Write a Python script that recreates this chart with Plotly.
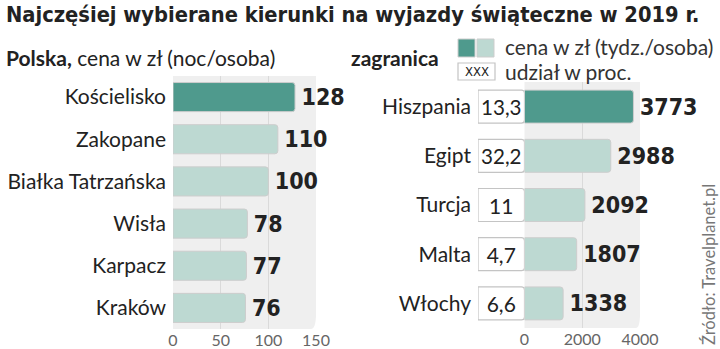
import plotly.graph_objects as go

W, H = 720, 349

# ---- data ----
pl_cities = ["Kościelisko", "Zakopane", "Białka Tatrzańska", "Wisła", "Karpacz", "Kraków"]
pl_prices = [128, 110, 100, 78, 77, 76]

ab_countries = ["Hiszpania", "Egipt", "Turcja", "Malta", "Włochy"]
ab_prices = [3773, 2988, 2092, 1807, 1338]
ab_share = ["13,3", "32,2", "11", "4,7", "6,6"]

pl_ticks = [0, 50, 100, 150]
ab_ticks = [0, 2000, 4000]

DARK = "#4f9a8d"
LIGHT = "#bdd9d2"
PANEL = "#efefef"
GRID = "#dadada"
TXT = "#222222"

LBL_FONT = "Lato"
NUM_FONT = "DejaVu Sans Condensed"
SP = "\u2006"


def px(x):
    return x / W


def py(y):
    return 1 - y / H


pl_colors = [DARK] + [LIGHT] * (len(pl_prices) - 1)
ab_colors = [DARK] + [LIGHT] * (len(ab_prices) - 1)

fig = go.Figure()

fig.add_trace(go.Bar(
    x=pl_prices, y=pl_cities, orientation="h", xaxis="x", yaxis="y",
    marker=dict(color=pl_colors, line=dict(color="#cdcdcd", width=1), cornerradius=3),
    text=[f"{SP}{v}" for v in pl_prices], textposition="outside", cliponaxis=False,
    textfont=dict(family=NUM_FONT, size=23, color=TXT, weight="bold"),
    hoverinfo="skip",
))

fig.add_trace(go.Bar(
    x=ab_prices, y=ab_countries, orientation="h", xaxis="x2", yaxis="y2", width=0.67,
    marker=dict(color=ab_colors, line=dict(color="#cdcdcd", width=1), cornerradius=3),
    text=[f"{SP}{v}" for v in ab_prices], textposition="outside", cliponaxis=False,
    textfont=dict(family=NUM_FONT, size=23, color=TXT, weight="bold"),
    hoverinfo="skip",
))

# share boxes
fig.add_trace(go.Bar(
    x=[1] * len(ab_share), y=ab_countries, orientation="h", xaxis="x3", yaxis="y2", width=0.67,
    marker=dict(color="white", line=dict(color="#c4c4c4", width=1.2), cornerradius=3),
    text=ab_share, textposition="inside", insidetextanchor="middle",
    textfont=dict(family=LBL_FONT, size=21, color=TXT),
    hoverinfo="skip",
))

axis_common = dict(showline=False, zeroline=False, ticks="", automargin=False,
                   tickfont=dict(family=LBL_FONT, size=16, color="#666"),
                   showgrid=True, gridcolor=GRID, gridwidth=1, fixedrange=True)

fig.update_layout(
    width=W, height=H,
    margin=dict(l=0, r=0, t=0, b=0, pad=0, autoexpand=False),
    paper_bgcolor="white", plot_bgcolor="rgba(0,0,0,0)",
    showlegend=False, bargap=0.31,
    xaxis=dict(domain=[px(173), px(316)], range=[0, 150], tickvals=pl_ticks,
               anchor="y", **axis_common),
    yaxis=dict(domain=[py(329), py(76)], categoryorder="array",
               categoryarray=pl_cities[::-1], anchor="x", showgrid=False,
               ticks="", ticklabelstandoff=6, automargin=False,
               tickfont=dict(family=LBL_FONT, size=21, color=TXT), fixedrange=True),
    xaxis2=dict(domain=[px(524.5), px(640)], range=[0, 4000], tickvals=ab_ticks,
                anchor="y2", **axis_common),
    xaxis3=dict(domain=[px(478), px(524.5)], range=[0, 1], anchor="y2",
                visible=False, fixedrange=True, automargin=False),
    yaxis2=dict(domain=[py(328), py(82)], categoryorder="array",
                categoryarray=ab_countries[::-1], anchor="x3", showgrid=False,
                ticks="", ticklabelstandoff=6, automargin=False,
                tickfont=dict(family=LBL_FONT, size=21, color=TXT), fixedrange=True),
)


def panel(xref, yref):
    r = 0.06
    return dict(type="path", xref=xref, yref=yref, layer="below",
                path=f"M 0 0 L 0 1 L 1 1 L 1 {r} Q 1 0 {1-r*0.6} 0 Z",
                fillcolor=PANEL, line=dict(width=0))


fig.add_shape(**panel("x domain", "y domain"))
fig.add_shape(**panel("x2 domain", "y2 domain"))

ann = []
ann.append(dict(x=px(4), y=py(14), xref="paper", yref="paper", xanchor="left", yanchor="middle",
                text="<b>Najczęśiej wybierane kierunki na wyjazdy świąteczne w 2019 r.</b>",
                showarrow=False, font=dict(family=NUM_FONT, size=21.7, color=TXT)))
ann.append(dict(x=px(4), y=py(57), xref="paper", yref="paper", xanchor="left", yanchor="middle",
                text="<b>Polska,</b> cena w zł (noc/osoba)", showarrow=False,
                font=dict(family=LBL_FONT, size=21, color=TXT)))
ann.append(dict(x=px(349), y=py(57), xref="paper", yref="paper", xanchor="left", yanchor="middle",
                text="<b>zagranica</b>", showarrow=False,
                font=dict(family=LBL_FONT, size=21, color=TXT)))
ann.append(dict(x=px(503), y=py(47), xref="paper", yref="paper", xanchor="left", yanchor="middle",
                text="cena w zł (tydz./osoba)", showarrow=False,
                font=dict(family=LBL_FONT, size=21, color="#333")))
ann.append(dict(x=px(503), y=py(71), xref="paper", yref="paper", xanchor="left", yanchor="middle",
                text="udział w proc.", showarrow=False,
                font=dict(family=LBL_FONT, size=21, color="#333")))
ann.append(dict(x=px(476.5), y=py(71.5), xref="paper", yref="paper", xanchor="center", yanchor="middle",
                text="XXX", showarrow=False,
                font=dict(family=NUM_FONT, size=13, color=TXT)))
ann.append(dict(x=px(709), y=py(265), xref="paper", yref="paper", xanchor="center", yanchor="middle",
                text="Źródło: Travelplanet.pl", textangle=-90, showarrow=False,
                font=dict(family=LBL_FONT, size=16.5, color="#777")))
fig.update_layout(annotations=ann)

fig.add_shape(type="rect", xref="paper", yref="paper", x0=px(458), x1=px(475), y0=py(57), y1=py(39),
              fillcolor=DARK, line=dict(color="#cdcdcd", width=1))
fig.add_shape(type="rect", xref="paper", yref="paper", x0=px(477), x1=px(494), y0=py(57), y1=py(39),
              fillcolor=LIGHT, line=dict(color="#cdcdcd", width=1))
fig.add_shape(type="rect", xref="paper", yref="paper", x0=px(458), x1=px(495), y0=py(80), y1=py(63),
              fillcolor="white", line=dict(color="#c4c4c4", width=1.2))

fig.write_html("out.html")
